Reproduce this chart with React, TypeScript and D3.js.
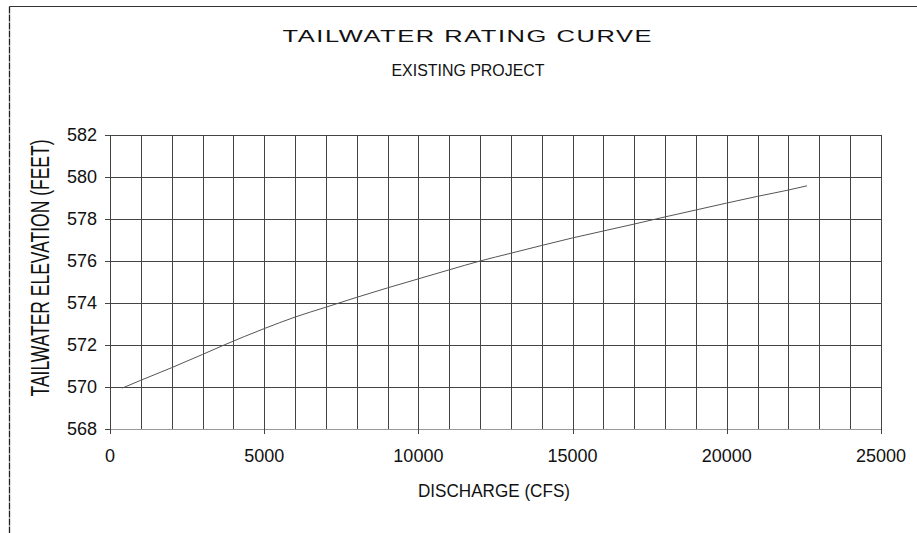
import React from "react";
import * as d3 from "d3";

const discharge = [400, 1000, 2000, 3000, 3700, 5000, 6000, 7000, 8000, 9000, 10000, 11000, 12000, 13000, 14000, 15000, 16000, 17000, 18000, 19000, 20000, 21000, 22000, 22600];
const elevation = [569.95, 570.32, 570.92, 571.55, 572.0, 572.78, 573.33, 573.8, 574.27, 574.72, 575.15, 575.58, 576.0, 576.37, 576.74, 577.1, 577.43, 577.76, 578.1, 578.43, 578.76, 579.08, 579.38, 579.58];
const xTicks = [0, 5000, 10000, 15000, 20000, 25000];
const yTicks = [568, 570, 572, 574, 576, 578, 580, 582];
const xGrid = d3.range(0, 25001, 1000);

const W = 917;
const H = 533;
const FONT = "'Liberation Sans', Arial, Helvetica, sans-serif";

export default function App() {
  const x = d3.scaleLinear().domain([0, 25000]).range([110, 881]);
  const y = d3.scaleLinear().domain([568, 582]).range([429, 135]);
  const pts: [number, number][] = discharge.map((d, i) => [d, elevation[i]]);
  const line = d3
    .line<[number, number]>()
    .x((d) => x(d[0]))
    .y((d) => y(d[1]))
    .curve(d3.curveMonotoneX);

  const titleScale = 1.5;

  return (
    <svg
      width={W}
      height={H}
      style={{ position: "absolute", left: 0, top: 0, background: "#fff" }}
      fontFamily={FONT}
    >
      <rect x={0} y={0} width={W} height={H} fill="#fff" />
      {/* page border */}
      <line x1={9.5} y1={6.5} x2={W} y2={6.5} stroke="#333" strokeWidth={1} />
      <line x1={9.5} y1={6.5} x2={9.5} y2={H} stroke="#222" strokeWidth={1.3} strokeDasharray="7 1" />

      {/* title */}
      <g transform={`translate(467, 42) scale(${titleScale}, 1)`}>
        <text x={0} y={0} textAnchor="middle" fontSize={17} fill="#111" textLength={369 / titleScale} lengthAdjust="spacing">
          TAILWATER RATING CURVE
        </text>
      </g>
      <text x={468} y={76} textAnchor="middle" fontSize={16.5} fill="#111" textLength={153} lengthAdjust="spacingAndGlyphs">
        EXISTING PROJECT
      </text>

      {/* vertical grid */}
      {xGrid.map((g) => (
        <line key={"vg" + g} x1={Math.round(x(g)) + 0.5} x2={Math.round(x(g)) + 0.5} y1={y(582)} y2={y(568)} stroke="#444" strokeWidth={1} />
      ))}
      {/* horizontal grid */}
      {yTicks.map((t) => (
        <line key={"hg" + t} x1={x(0)} x2={x(25000)} y1={Math.round(y(t)) + 0.5} y2={Math.round(y(t)) + 0.5} stroke={t === 568 ? "#999" : "#444"} strokeWidth={1} />
      ))}

      {/* y ticks and labels */}
      {yTicks.map((t) => (
        <g key={"yt" + t}>
          <line x1={x(0) - 5} x2={x(0)} y1={Math.round(y(t)) + 0.5} y2={Math.round(y(t)) + 0.5} stroke="#444" />
          <text x={97} y={y(t) + 6} textAnchor="end" fontSize={18} fill="#111">
            {t}
          </text>
        </g>
      ))}

      {/* x ticks and labels */}
      {xTicks.map((t) => (
        <g key={"xt" + t}>
          <line x1={Math.round(x(t)) + 0.5} x2={Math.round(x(t)) + 0.5} y1={y(568)} y2={y(568) + 5} stroke="#444" />
          <text x={x(t)} y={462} textAnchor="middle" fontSize={18} fill="#111">
            {t}
          </text>
        </g>
      ))}

      {/* curve */}
      <path d={line(pts) || ""} fill="none" stroke="#555" strokeWidth={1} />

      {/* axis titles */}
      <text x={494} y={497} textAnchor="middle" fontSize={17.5} fill="#111" textLength={152} lengthAdjust="spacingAndGlyphs">
        DISCHARGE (CFS)
      </text>
      <text
        transform={`translate(49, 268) rotate(-90)`}
        textAnchor="middle"
        fontSize={26}
        fill="#111"
        textLength={257}
        lengthAdjust="spacingAndGlyphs"
      >
        TAILWATER ELEVATION (FEET)
      </text>
    </svg>
  );
}
